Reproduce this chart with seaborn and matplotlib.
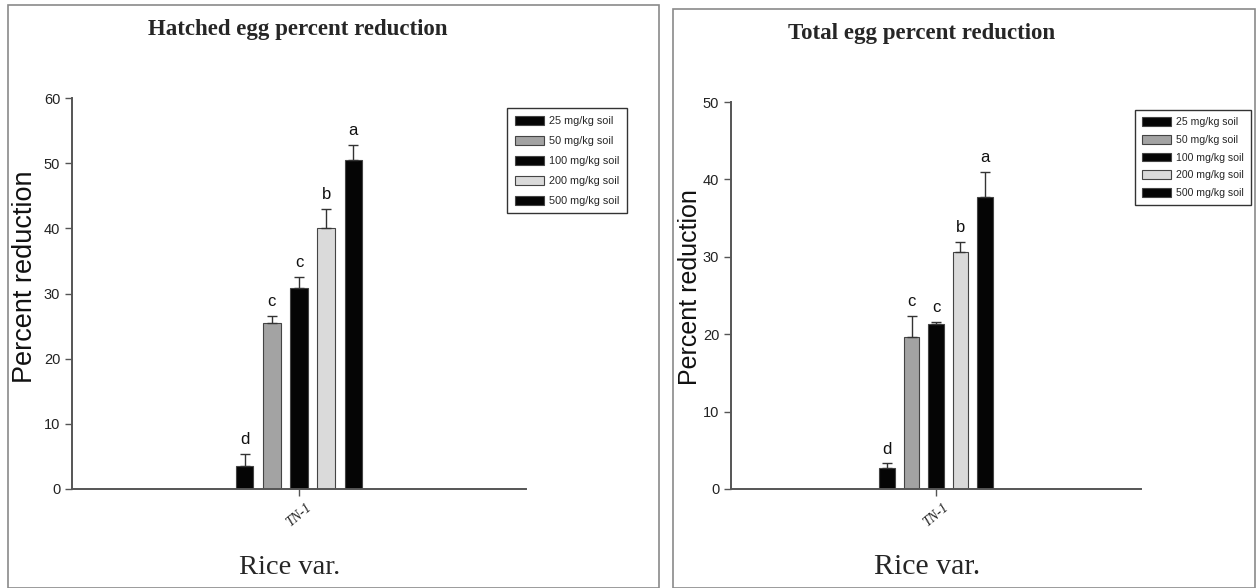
import pandas as pd
import seaborn as sns
import matplotlib.pyplot as plt
from matplotlib.patches import Rectangle

# données
doses = ["25 mg/kg soil", "50 mg/kg soil", "100 mg/kg soil", "200 mg/kg soil", "500 mg/kg soil"]
variete = "TN-1"

hatched_mean = [3.6, 25.5, 30.8, 40.0, 50.5]
hatched_err = [1.8, 1.0, 1.8, 2.9, 2.3]
hatched_lettre = ["d", "c", "c", "b", "a"]

total_mean = [2.7, 19.6, 21.3, 30.6, 37.7]
total_err = [0.6, 2.8, 0.3, 1.3, 3.3]
total_lettre = ["d", "c", "c", "b", "a"]

couleurs = ["#050505", "#a3a3a3", "#050505", "#dadada", "#050505"]

sns.set_style("ticks")
plt.rcParams["font.family"] = ["Liberation Sans", "DejaVu Sans"]

fig = plt.figure(figsize=(12.56, 5.88), dpi=100)
W, H = 1256, 588

# cadres des deux panneaux
for x0, y0, x1 in [(8, 5, 659), (673, 9, 1255)]:
    fig.patches.append(Rectangle((x0 / W, 0), (x1 - x0) / W, 1 - y0 / H,
                                 transform=fig.transFigure, fill=False,
                                 edgecolor="#8a8a8a", linewidth=1.2))


def panneau(rect, moyennes, erreurs, lettres, ymax, titre, titre_xy, ylab, xlab, leg):
    ax = fig.add_axes(rect)
    df = pd.DataFrame({"rice": variete, "dose": doses, "val": moyennes})
    sns.barplot(data=df, x="rice", y="val", hue="dose", hue_order=doses,
                palette=couleurs, gap=0.36, edgecolor="#444444", linewidth=0.8,
                errorbar=None, ax=ax)
    for cont, e, l in zip(ax.containers, erreurs, lettres):
        b = cont[0]
        xc = b.get_x() + b.get_width() / 2
        h = b.get_height()
        ax.errorbar(xc, h, yerr=[[0], [e]], fmt="none", ecolor="#333333",
                    elinewidth=1.0, capsize=3.5, capthick=1.0)
        ax.annotate(l, (xc, h + e), xytext=(0, 5), textcoords="offset points",
                    ha="center", va="bottom", fontsize=12, color="#111111")
    ax.set_xlim(-1.34, 1.34)
    ax.set_ylim(0, ymax)
    ax.set_yticks(range(0, ymax + 1, 10))
    ax.set_xlabel("")
    ax.set_ylabel("")
    sns.despine(ax=ax)
    for s in ["left", "bottom"]:
        ax.spines[s].set_color("#555555")
        ax.spines[s].set_linewidth(1.4)
    ax.tick_params(axis="both", length=5, width=1, color="#555555", labelsize=10.5, labelcolor="#222222")
    for t in ax.get_xticklabels():
        t.set_rotation(40)
        t.set_family("Liberation Serif")
        t.set_style("italic")
        t.set_fontsize(10)
        t.set_ha("center")

    h_, l_ = ax.get_legend_handles_labels()
    ax.legend(h_, l_, loc="upper left", bbox_to_anchor=(leg[0] / W, 1 - leg[1] / H),
              bbox_transform=fig.transFigure, borderaxespad=0, fontsize=leg[2],
              frameon=True, fancybox=False, edgecolor="#333333",
              handlelength=2.7, handleheight=0.9, labelspacing=leg[3], borderpad=0.7,
              handletextpad=0.45, framealpha=1)
    ax.get_legend().get_frame().set_linewidth(1.0)

    fig.text(titre_xy[0] / W, 1 - titre_xy[1] / H, titre, ha="center", va="center",
             family="Liberation Serif", weight="bold", fontsize=16.5)
    fig.text(ylab[0] / W, 1 - ylab[1] / H, "Percent reduction", rotation=90, ha="center",
             va="center", family="Liberation Sans", fontsize=ylab[2], color="#111111")
    fig.text(xlab[0] / W, 1 - xlab[1] / H, "Rice var.", ha="center", va="center",
             family="Liberation Serif", fontsize=xlab[2])
    return ax


panneau([72 / W, 99 / H, 454 / W, 391 / H], hatched_mean, hatched_err, hatched_lettre, 60,
        "Hatched egg percent reduction", (298, 30), (25, 277, 19.5), (290, 568, 20.5),
        (507, 108, 7.8, 0.9))
panneau([731 / W, 99 / H, 410 / W, 387 / H], total_mean, total_err, total_lettre, 50,
        "Total egg percent reduction", (922, 33), (690, 287, 18), (927, 567, 21.5),
        (1135, 110, 7.6, 0.72))

fig.savefig("out.png", dpi=100)
